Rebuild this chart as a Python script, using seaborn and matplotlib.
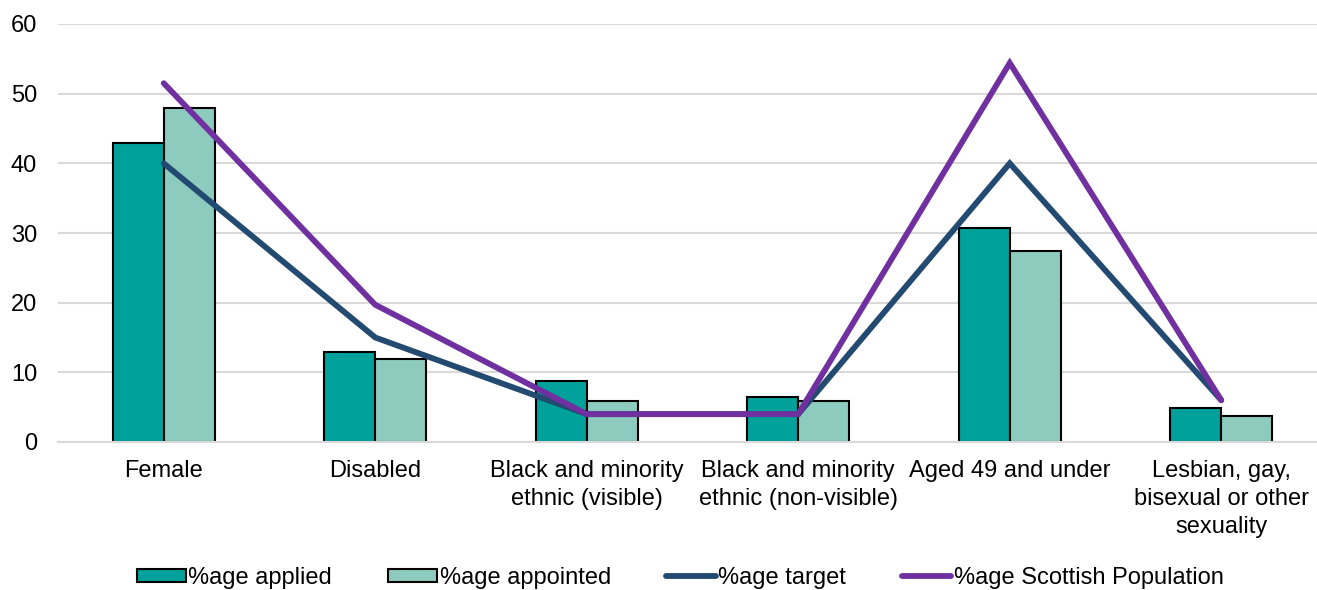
import numpy as np
import pandas as pd
import seaborn as sns
import matplotlib.pyplot as plt
from matplotlib.patches import Patch
from matplotlib.lines import Line2D

# Data
categories = ['Female', 'Disabled', 'Black and minority\nethnic (visible)',
              'Black and minority\nethnic (non-visible)', 'Aged 49 and under',
              'Lesbian, gay,\nbisexual or other\nsexuality']
applied = [42.9, 12.9, 8.7, 6.4, 30.7, 4.9]
appointed = [48.0, 11.9, 5.9, 5.9, 27.4, 3.7]
target = [40, 15, 4, 4, 40, 6]
scottish = [51.5, 19.7, 4, 4, 54.4, 6]
yticks = [0, 10, 20, 30, 40, 50, 60]

teal = '#00A19A'
mint = '#8CCBBE'
navy = '#234A70'
purple = '#7030A0'

sns.set_style('white')
plt.rcParams['font.family'] = ['Liberation Sans', 'DejaVu Sans']

bars = pd.DataFrame({
    'Group': categories * 2,
    'Measure': ['%age applied'] * len(categories) + ['%age appointed'] * len(categories),
    'Value': applied + appointed,
})
pos = np.arange(len(categories))

fig = plt.figure(figsize=(13.17, 5.9), dpi=100)
ax = fig.add_axes([58 / 1317, 1 - 442 / 590, 1269 / 1317, 418 / 590])

sns.barplot(data=bars, x='Group', y='Value', hue='Measure', palette=[teal, mint],
            width=0.48, gap=0, saturation=1, edgecolor='black', linewidth=1.5,
            legend=False, ax=ax)

# lines sit on the category centres
lw = 4.2
sns.lineplot(x=pos, y=target, color=navy, linewidth=lw, sort=False,
             solid_capstyle='round', solid_joinstyle='miter', ax=ax, zorder=4)
sns.lineplot(x=pos, y=scottish, color=purple, linewidth=lw, sort=False,
             solid_capstyle='round', solid_joinstyle='miter', ax=ax, zorder=5)

ax.set_xlim(-0.5, len(categories) - 0.5)
ax.set_ylim(0, 60)
ax.set_yticks(yticks)
ax.set_xticks(pos)
ax.set_xticklabels(categories, linespacing=1.34)
ax.set_xlabel('')
ax.set_ylabel('')
ax.yaxis.grid(True, color='#D9D9D9', linewidth=1.5)
ax.set_axisbelow(True)
for s in ['top', 'right', 'left']:
    ax.spines[s].set_visible(False)
ax.spines['bottom'].set_color('#D9D9D9')
ax.spines['bottom'].set_linewidth(1.5)
ax.tick_params(axis='both', length=0, labelsize=17, colors='black')
ax.tick_params(axis='x', pad=13)
ax.tick_params(axis='y', pad=15)

handles = [
    Patch(facecolor=teal, edgecolor='black', linewidth=1.5, label='%age applied'),
    Patch(facecolor=mint, edgecolor='black', linewidth=1.5, label='%age appointed'),
    Line2D([0], [0], color=navy, linewidth=lw, solid_capstyle='round', label='%age target'),
    Line2D([0], [0], color=purple, linewidth=lw, solid_capstyle='round', label='%age Scottish Population'),
]
fig.legend(handles=handles, loc='center', bbox_to_anchor=(680 / 1317, 1 - 578 / 590),
           ncol=4, frameon=False, fontsize=17, handlelength=2.1, handleheight=0.5,
           handletextpad=0.1, columnspacing=2.35, labelcolor='black')

fig.savefig('out.png', dpi=100)
